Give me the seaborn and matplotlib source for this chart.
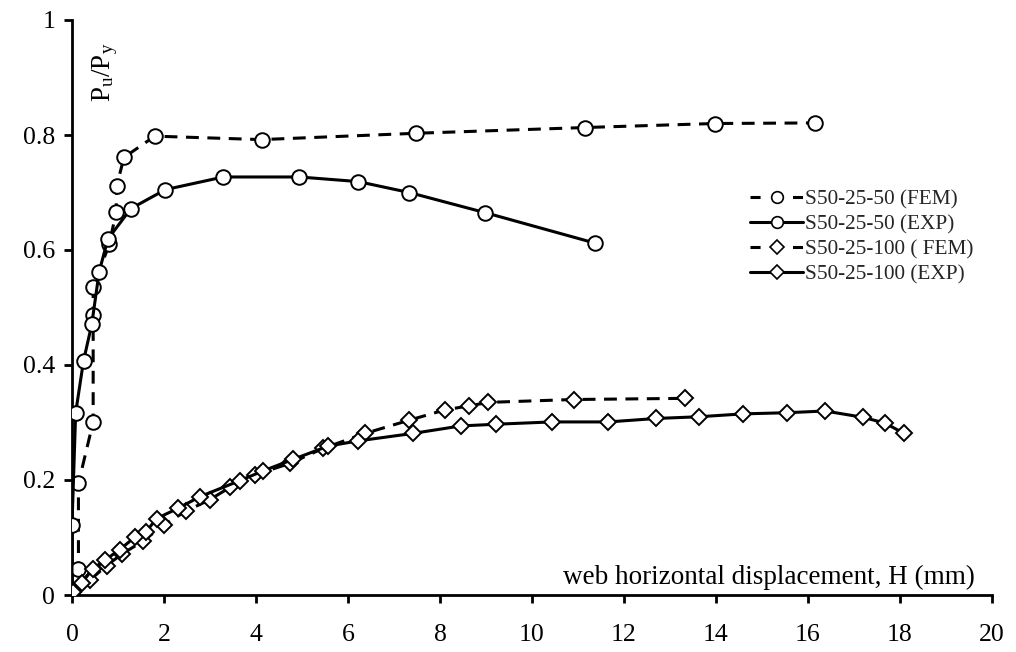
import numpy as np
import pandas as pd
import matplotlib
matplotlib.use("Agg")
import matplotlib.pyplot as plt
from matplotlib.lines import Line2D
import seaborn as sns

# ---- data ----
fem50_x = [0.0, 0.14, 0.14, 0.46, 0.46, 0.46, 0.81, 0.96, 0.97, 1.13, 1.80, 4.12, 7.48, 11.15, 13.98, 16.15]
fem50_y = [0.0, 0.045, 0.194, 0.301, 0.487, 0.535, 0.610, 0.666, 0.711, 0.761, 0.798, 0.792, 0.803, 0.813, 0.820, 0.821]

exp50_x = [0.0, 0.0, 0.08, 0.25, 0.43, 0.59, 0.78, 1.28, 2.03, 3.29, 4.94, 6.22, 7.33, 8.98, 11.37]
exp50_y = [0.0, 0.122, 0.317, 0.407, 0.471, 0.562, 0.619, 0.672, 0.705, 0.727, 0.727, 0.719, 0.700, 0.665, 0.612]

fem100_x = [0.03, 0.39, 0.75, 1.08, 1.55, 1.99, 2.48, 3.00, 3.43, 3.98, 4.74, 5.46, 6.37, 7.33, 8.11, 8.64, 9.05, 10.91, 13.33]
fem100_y = [0.006, 0.026, 0.051, 0.071, 0.094, 0.122, 0.146, 0.166, 0.187, 0.209, 0.229, 0.255, 0.281, 0.304, 0.322, 0.329, 0.335, 0.340, 0.342]

exp100_x = [0.03, 0.21, 0.46, 0.72, 1.04, 1.37, 1.61, 1.84, 2.31, 2.78, 3.65, 4.16, 4.81, 5.57, 6.22, 7.41, 8.45, 9.22,
            10.43, 11.66, 12.70, 13.63, 14.59, 15.54, 16.37, 17.20, 17.67, 18.09]
exp100_y = [0.006, 0.021, 0.046, 0.061, 0.079, 0.101, 0.110, 0.133, 0.151, 0.171, 0.199, 0.216, 0.236, 0.259, 0.268, 0.281, 0.294, 0.297,
            0.301, 0.301, 0.307, 0.310, 0.315, 0.317, 0.320, 0.309, 0.299, 0.281]

labels = ["S50-25-50 (FEM)", "S50-25-50 (EXP)", "S50-25-100 ( FEM)", "S50-25-100 (EXP)"]
x_ticks = [0, 2, 4, 6, 8, 10, 12, 14, 16, 18, 20]
y_ticks = [0, 0.2, 0.4, 0.6, 0.8, 1.0]
y_ticklabels = ["0", "0.2", "0.4", "0.6", "0.8", "1"]

# ---- style ----
sns.set_theme(style="white")
plt.rcParams["font.family"] = ["Liberation Serif", "DejaVu Serif"]
plt.rcParams["mathtext.fontset"] = "custom"
plt.rcParams["mathtext.rm"] = "Liberation Serif"
plt.rcParams["mathtext.it"] = "Liberation Serif"

TICK_FS = 18.5
LEG_FS = 15.3
DASH = (0, (4.2, 2.8))

fig = plt.figure(figsize=(10.16, 6.52), dpi=100)
ax = fig.add_axes([72 / 1016, 1 - 595 / 652, 920 / 1016, 575 / 652])

series = [
    (fem50_x, fem50_y, DASH, "o", 10.5),
    (exp50_x, exp50_y, "-", "o", 10.5),
    (fem100_x, fem100_y, DASH, "D", 8.5),
    (exp100_x, exp100_y, "-", "D", 8.5),
]

handles = []
for i, ((xs, ys, ls, mk, ms), lab) in enumerate(zip(series, labels)):
    df = pd.DataFrame({"x": xs, "y": ys})
    sns.lineplot(data=df, x="x", y="y", sort=False, estimator=None, ax=ax,
                 color="black", linewidth=2.2, linestyle=ls, marker=mk,
                 markersize=ms, markerfacecolor="white", markeredgecolor="black",
                 markeredgewidth=1.4, legend=False, zorder=3 + i)
    handles.append(Line2D([], [], color="black", linewidth=2.2,
                          linestyle=(0, (3.3, 10.6)) if ls != "-" else "-", marker=mk,
                          markersize=ms * 0.8, markerfacecolor="white",
                          markeredgecolor="black", markeredgewidth=1.2, label=lab))

ax.set_xlim(0, 20)
ax.set_ylim(0, 1)
ax.set_xticks(x_ticks)
ax.set_xticklabels([str(t) for t in x_ticks])
ax.set_yticks(y_ticks)
ax.set_yticklabels(y_ticklabels)
ax.set_xlabel("")
ax.set_ylabel("")

for s in ["top", "right"]:
    ax.spines[s].set_visible(False)
for s in ["left", "bottom"]:
    ax.spines[s].set_linewidth(2.0)
    ax.spines[s].set_color("black")
ax.tick_params(axis="both", direction="out", length=6, width=2.0, color="black",
               labelsize=TICK_FS, labelcolor="black", left=True, bottom=True)
ax.tick_params(axis="x", pad=15)
ax.tick_params(axis="y", pad=6)

ax.text(0.72, 0.91, r"$\mathrm{P_u/P_y}$", rotation=90, ha="center", va="center",
        fontsize=19.5, color="black")
ax.text(19.63, 0.03, "web horizontal displacement, H (mm)", ha="right", va="center",
        fontsize=19.5, color="black")

leg = ax.legend(handles=handles, loc="upper left", bbox_to_anchor=(0.737, 0.705),
                frameon=False, fontsize=LEG_FS, handlelength=2.5, handletextpad=0.1,
                labelspacing=0.24, borderpad=0, borderaxespad=0)

fig.savefig("out.png", dpi=100)
